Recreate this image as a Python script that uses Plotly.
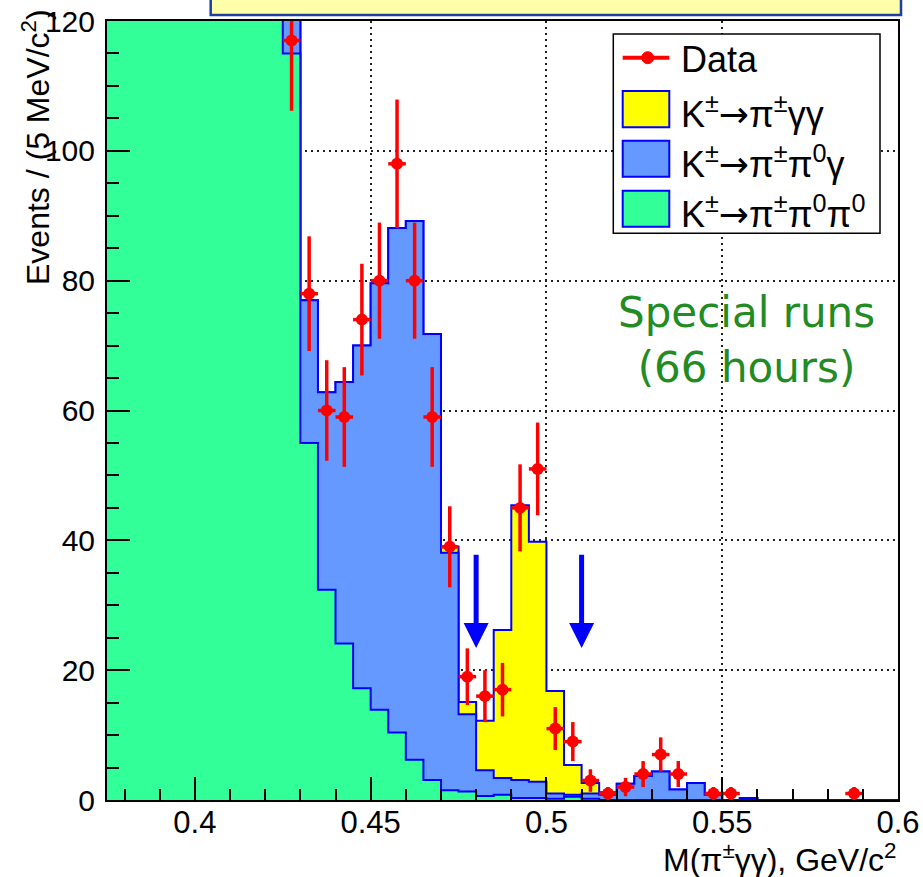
import numpy as np
import plotly.graph_objects as go

# ---------------- data ----------------
bin_width = 0.005
x_lo, x_hi = 0.375, 0.600
y_lo, y_hi = 0, 120

# per-bin contents, bins starting at 0.375 (45 bins of 5 MeV)
pipi0pi0 = [980, 900, 800, 690, 580, 470, 370, 280, 205, 150,
            115, 55, 32.4, 24.1, 17.2, 13.9, 10.4, 6.2, 3.1, 1.5,
            1.3, 0.6, 0.8, 0.3, 0.3, 0.2, 0.5, 0.2, 0, 0,
            0, 0, 0, 0, 0, 0, 0, 0, 0, 0,
            0, 0, 0, 0, 0]
pipi0g = [10, 11, 12, 13, 14, 15, 16, 17, 18, 19,
          20, 22, 30.4, 40.3, 52.8, 65.7, 77.7, 83.0, 68.7, 36.6,
          11.9, 4.0, 2.6, 2.8, 2.5, 0.8, 0.3, 0.8, 0.8, 2.5,
          3.7, 4.4, 1.6, 2.6, 0.8, 0, 0.3, 0, 0, 0,
          0, 0, 0, 0, 0]
pigg = [0, 0, 0, 0, 0, 0, 0, 0, 0, 0,
        0, 0, 0, 0, 0, 0, 0, 0, 0, 0.9,
        1.9, 7.6, 22.8, 42.3, 37.0, 15.8, 4.6, 1.6, 0.4, 0,
        0, 0, 0, 0, 0, 0, 0, 0, 0, 0,
        0, 0, 0, 0, 0]

data_x = [0.4275, 0.4325, 0.4375, 0.4425, 0.4475, 0.4525, 0.4575, 0.4625,
          0.4675, 0.4725, 0.4775, 0.4825, 0.4875, 0.4925, 0.4975, 0.5025,
          0.5075, 0.5125, 0.5175, 0.5225, 0.5275, 0.5325, 0.5375, 0.5475,
          0.5525, 0.5875]
data_n = [117, 78, 60, 59, 74, 80, 98, 80, 59, 39, 19, 16, 17, 45, 51, 11,
          9, 3, 1, 2, 4, 7, 4, 1, 1, 1]

signal_cuts = [0.48, 0.51]
arrow_top, arrow_tip = 38, 23.4

x_ticks = [0.4, 0.45, 0.5, 0.55, 0.6]
y_ticks = [0, 20, 40, 60, 80, 100, 120]

ARROW = '<span style="font-family:DejaVu Sans">→</span>'
legend_labels = ["Data",
                 "K<sup>±</sup>" + ARROW + "π<sup>±</sup>γγ",
                 "K<sup>±</sup>" + ARROW + "π<sup>±</sup>π<sup>0</sup>γ",
                 "K<sup>±</sup>" + ARROW + "π<sup>±</sup>π<sup>0</sup>π<sup>0</sup>"]

# ---------------- styling ----------------
GREEN = "#33ff99"
BLUE = "#6699ff"
YELLOW = "#ffff00"
OUTLINE = "#0000ff"
RED = "#ff0000"
FONT = "Liberation Sans"

W, H = 923, 877
ML, MR, MT, MB = 107, 25, 21, 77
PW, PH = W - ML - MR, H - MT - MB


def px(xp):
    return (xp - ML) / PW


def py(yp):
    return (H - MB - yp) / PH


edges = np.round(np.arange(x_lo, x_hi + 1e-9, bin_width), 4)
g = np.array(pipi0pi0, float)
b = np.array(pipi0g, float)
yl = np.array(pigg, float)
stack1 = g
stack2 = g + b
stack3 = g + b + yl

fig = go.Figure()
for vals, col in [(stack3, YELLOW), (stack2, BLUE), (stack1, GREEN)]:
    yv = np.append(vals, vals[-1])
    fig.add_trace(go.Scatter(x=edges, y=yv, mode="lines", line_shape="hv",
                             line=dict(color=OUTLINE, width=2),
                             fill="tozeroy", fillcolor=col,
                             hoverinfo="skip", showlegend=False))

fig.add_trace(go.Scatter(
    x=data_x, y=data_n, mode="markers",
    marker=dict(color=RED, size=12, symbol="circle"),
    error_y=dict(type="data", array=np.sqrt(data_n), color=RED,
                 thickness=3.5, width=0),
    error_x=dict(type="constant", value=bin_width / 2, color=RED,
                 thickness=3.5, width=0),
    showlegend=False))

shapes = []
annotations = []

# arrows at signal region
for xc in signal_cuts:
    annotations.append(dict(x=xc, y=arrow_tip, ax=xc, ay=arrow_top,
                            xref="x", yref="y", axref="x", ayref="y",
                            text="", showarrow=True, arrowhead=2,
                            arrowsize=1.0, arrowwidth=5,
                            arrowcolor=OUTLINE, standoff=0))

# title box at top (cut off)
shapes.append(dict(type="rect", xref="paper", yref="paper",
                   x0=px(210.7), x1=px(901), y0=py(15), y1=py(-20),
                   line=dict(color="#1f3f9f", width=2.5),
                   fillcolor="#ffffaa", layer="above"))

# custom legend
shapes.append(dict(type="rect", xref="paper", yref="paper",
                   x0=px(613.3), x1=px(880), y0=py(233.3), y1=py(34),
                   line=dict(color="black", width=1.5),
                   fillcolor="white", layer="above"))
shapes.append(dict(type="line", xref="paper", yref="paper",
                   x0=px(622.7), x1=px(669.3), y0=py(57.7), y1=py(57.7),
                   line=dict(color=RED, width=4), layer="above"))
shapes.append(dict(type="circle", xref="paper", yref="paper",
                   xsizemode="pixel", ysizemode="pixel",
                   xanchor=px(647.7), yanchor=py(57.7),
                   x0=-6, x1=6, y0=-6, y1=6,
                   line=dict(color=RED, width=1), fillcolor=RED,
                   layer="above"))
patch_rows = [(91, 127.3, YELLOW), (140.7, 176.7, BLUE), (190.7, 226.7, GREEN)]
for (t, bt, col) in patch_rows:
    shapes.append(dict(type="rect", xref="paper", yref="paper",
                       x0=px(622.7), x1=px(669.3), y0=py(bt), y1=py(t),
                       line=dict(color=OUTLINE, width=2),
                       fillcolor=col, layer="above"))
text_rows = [59, 112, 162, 212]
for lab, yc in zip(legend_labels, text_rows):
    annotations.append(dict(x=px(679), y=py(yc), xref="paper", yref="paper",
                            xanchor="left", yanchor="middle",
                            text=lab, showarrow=False,
                            font=dict(family=FONT, size=36, color="black")))

# axis titles
annotations.append(dict(x=px(36), y=py(147), xref="paper", yref="paper",
                        xanchor="center", yanchor="middle", textangle=-90,
                        text="Events / (5 MeV/c<sup>2</sup>)", showarrow=False,
                        font=dict(family=FONT, size=32, color="black")))
annotations.append(dict(x=px(899), y=py(858), xref="paper", yref="paper",
                        xanchor="right", yanchor="middle",
                        text="M(π<sup>±</sup>γγ), GeV/c<sup>2</sup>",
                        showarrow=False,
                        font=dict(family=FONT, size=32, color="black")))

# text label
annotations.append(dict(x=px(746), y=py(340), xref="paper", yref="paper",
                        xanchor="center", yanchor="middle", align="center",
                        text="Special runs<br>(66 hours)", showarrow=False,
                        font=dict(family="DejaVu Sans", size=42,
                                  color="#228B22")))

axis_common = dict(showline=True, linecolor="black", linewidth=2, mirror=True,
                   ticks="inside", tickcolor="black", tickwidth=2,
                   showgrid=True, gridcolor="#222222", gridwidth=1.5,
                   griddash="2px,4px", zeroline=False, automargin=False)

fig.update_layout(
    width=W, height=H,
    margin=dict(l=ML, r=MR, t=MT, b=MB),
    paper_bgcolor="white", plot_bgcolor="white",
    showlegend=False,
    shapes=shapes, annotations=annotations,
    xaxis=dict(range=[x_lo, x_hi], tickvals=x_ticks,
               ticktext=[f"{v:g}" for v in x_ticks], ticklen=23,
               tickfont=dict(family=FONT, size=31, color="black"),
               minor=dict(dtick=0.01, tick0=0.4, ticklen=11, ticks="inside",
                          tickcolor="black", tickwidth=2, showgrid=False),
               ticklabelstandoff=-6, **axis_common),
    yaxis=dict(range=[y_lo, y_hi], tickvals=y_ticks, ticklen=23,
               tickfont=dict(family=FONT, size=30, color="black"),
               minor=dict(dtick=5, tick0=0, ticklen=12, ticks="inside",
                          tickcolor="black", tickwidth=2, showgrid=False),
               ticklabelstandoff=4, **axis_common),
)

fig.write_html("out.html")
